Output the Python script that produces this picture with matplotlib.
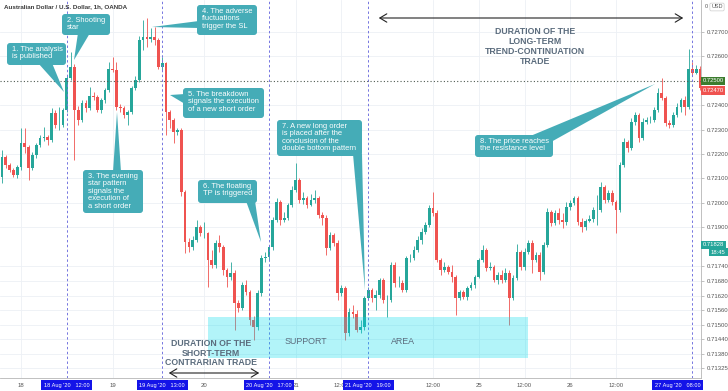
import matplotlib
matplotlib.use("Agg")
import matplotlib.pyplot as plt
from matplotlib.patches import FancyBboxPatch, Polygon, Rectangle
from matplotlib.transforms import Affine2D, blended_transform_factory

plt.rcParams['font.family'] = ['Liberation Sans', 'DejaVu Sans']

# AUD/USD 1h candles (OANDA), 17 Aug 19:00 -> 27 Aug 10:00, weekend hours removed
first_open = 0.72105
closes = [
    0.72187, 0.72154, 0.72134, 0.72113, 0.72146, 0.72245, 0.72228, 0.72142, 0.72195, 0.72236,
    0.72265, 0.72269, 0.72257, 0.72368, 0.72318, 0.72318, 0.72380, 0.72511, 0.72556, 0.72380,
    0.72339, 0.72409, 0.72388, 0.72437, 0.72433, 0.72380, 0.72421, 0.72462, 0.72548, 0.72544,
    0.72392, 0.72388, 0.72359, 0.72372, 0.72470, 0.72503, 0.72667, 0.72679, 0.72671, 0.72679,
    0.72667, 0.72556, 0.72573, 0.72372, 0.72339, 0.72290, 0.72298, 0.72044, 0.71839, 0.71818,
    0.71847, 0.71900, 0.71876, 0.71876, 0.71765, 0.71744, 0.71835, 0.71818, 0.71724, 0.71695,
    0.71712, 0.71589, 0.71568, 0.71662, 0.71634, 0.71519, 0.71490, 0.71630, 0.71773, 0.71777,
    0.71818, 0.71929, 0.72003, 0.71929, 0.71937, 0.71990, 0.72052, 0.72093, 0.72011, 0.72019,
    0.71990, 0.72011, 0.72019, 0.71949, 0.71937, 0.71814, 0.71867, 0.71835, 0.71630, 0.71650,
    0.71466, 0.71552, 0.71544, 0.71478, 0.71490, 0.71609, 0.71642, 0.71609, 0.71621, 0.71683,
    0.71601, 0.71601, 0.71744, 0.71671, 0.71671, 0.71642, 0.71773, 0.71773, 0.71806, 0.71847,
    0.71880, 0.71908, 0.71978, 0.71958, 0.71765, 0.71724, 0.71736, 0.71716, 0.71695, 0.71609,
    0.71634, 0.71613, 0.71650, 0.71662, 0.71695, 0.71765, 0.71806, 0.71732, 0.71736, 0.71683,
    0.71703, 0.71683, 0.71712, 0.71609, 0.71691, 0.71798, 0.71736, 0.71798, 0.71835, 0.71765,
    0.71785, 0.71716, 0.71826, 0.71962, 0.71917, 0.71958, 0.71929, 0.71921, 0.71982, 0.71999,
    0.72019, 0.71921, 0.71900, 0.71925, 0.71933, 0.71970, 0.71970, 0.72064, 0.72011, 0.72040,
    0.72003, 0.71970, 0.72154, 0.72249, 0.72224, 0.72331, 0.72359, 0.72265, 0.72331, 0.72339,
    0.72339, 0.72380, 0.72450, 0.72429, 0.72327, 0.72318, 0.72359, 0.72392, 0.72421, 0.72392,
    0.72548, 0.72531, 0.72548, 0.72470,
]
highs = [
    0.72216, 0.72195, 0.72163, 0.72142, 0.72154, 0.72306, 0.72306, 0.72236, 0.72208, 0.72245,
    0.72277, 0.72310, 0.72277, 0.72388, 0.72380, 0.72392, 0.72388, 0.72519, 0.72618, 0.72569,
    0.72396, 0.72421, 0.72421, 0.72474, 0.72454, 0.72441, 0.72429, 0.72470, 0.72577, 0.72597,
    0.72577, 0.72405, 0.72396, 0.72380, 0.72478, 0.72519, 0.72683, 0.72749, 0.72757, 0.72716,
    0.72720, 0.72675, 0.72597, 0.72577, 0.72380, 0.72347, 0.72306, 0.72306, 0.72052, 0.71855,
    0.71863, 0.71929, 0.71908, 0.71921, 0.71880, 0.71806, 0.71847, 0.71867, 0.71826, 0.71732,
    0.71757, 0.71724, 0.71601, 0.71675, 0.71683, 0.71642, 0.71535, 0.71642, 0.71785, 0.71798,
    0.71826, 0.71941, 0.72019, 0.72011, 0.71962, 0.71999, 0.72068, 0.72163, 0.72101, 0.72044,
    0.72027, 0.72036, 0.72052, 0.72027, 0.71962, 0.71949, 0.71880, 0.71876, 0.71847, 0.71662,
    0.71658, 0.71568, 0.71580, 0.71560, 0.71519, 0.71617, 0.71654, 0.71650, 0.71642, 0.71691,
    0.71691, 0.71621, 0.71757, 0.71757, 0.71699, 0.71683, 0.71781, 0.71790, 0.71822, 0.71863,
    0.71896, 0.71921, 0.71990, 0.72044, 0.71970, 0.71773, 0.71757, 0.71744, 0.71744, 0.71703,
    0.71642, 0.71642, 0.71658, 0.71675, 0.71703, 0.71773, 0.71826, 0.71814, 0.71757, 0.71744,
    0.71716, 0.71724, 0.71732, 0.71724, 0.71703, 0.71831, 0.71806, 0.71814, 0.71847, 0.71847,
    0.71798, 0.71798, 0.71839, 0.71978, 0.71970, 0.71970, 0.71978, 0.71958, 0.72003, 0.72011,
    0.72027, 0.72027, 0.71937, 0.71933, 0.71949, 0.71982, 0.72031, 0.72085, 0.72072, 0.72052,
    0.72052, 0.72011, 0.72167, 0.72265, 0.72257, 0.72347, 0.72372, 0.72368, 0.72347, 0.72351,
    0.72355, 0.72392, 0.72470, 0.72511, 0.72437, 0.72339, 0.72372, 0.72409, 0.72429, 0.72437,
    0.72630, 0.72577, 0.72564, 0.72560,
]
lows = [
    0.72081, 0.72142, 0.72126, 0.72105, 0.72101, 0.72134, 0.72204, 0.72093, 0.72134, 0.72183,
    0.72228, 0.72253, 0.72236, 0.72249, 0.72306, 0.72298, 0.72310, 0.72372, 0.72503, 0.72175,
    0.72318, 0.72331, 0.72372, 0.72380, 0.72421, 0.72372, 0.72368, 0.72409, 0.72454, 0.72536,
    0.72380, 0.72372, 0.72347, 0.72318, 0.72364, 0.72462, 0.72495, 0.72626, 0.72638, 0.72659,
    0.72646, 0.72548, 0.72544, 0.72277, 0.72306, 0.72245, 0.72277, 0.72027, 0.71794, 0.71798,
    0.71806, 0.71839, 0.71863, 0.71855, 0.71654, 0.71732, 0.71732, 0.71798, 0.71703, 0.71654,
    0.71683, 0.71478, 0.71552, 0.71560, 0.71621, 0.71498, 0.71437, 0.71478, 0.71617, 0.71757,
    0.71765, 0.71806, 0.71921, 0.71908, 0.71921, 0.71929, 0.71982, 0.72044, 0.71999, 0.71995,
    0.71978, 0.71986, 0.71999, 0.71937, 0.71908, 0.71785, 0.71806, 0.71822, 0.71601, 0.71617,
    0.71437, 0.71453, 0.71527, 0.71470, 0.71466, 0.71478, 0.71601, 0.71593, 0.71560, 0.71609,
    0.71589, 0.71531, 0.71593, 0.71654, 0.71654, 0.71634, 0.71634, 0.71757, 0.71765, 0.71798,
    0.71831, 0.71872, 0.71900, 0.71945, 0.71757, 0.71703, 0.71716, 0.71708, 0.71675, 0.71539,
    0.71601, 0.71605, 0.71601, 0.71642, 0.71650, 0.71691, 0.71757, 0.71720, 0.71724, 0.71675,
    0.71667, 0.71671, 0.71675, 0.71498, 0.71601, 0.71683, 0.71724, 0.71724, 0.71790, 0.71712,
    0.71757, 0.71683, 0.71708, 0.71818, 0.71904, 0.71908, 0.71913, 0.71896, 0.71908, 0.71970,
    0.71990, 0.71908, 0.71880, 0.71888, 0.71921, 0.71921, 0.71908, 0.71962, 0.71999, 0.72003,
    0.71990, 0.71876, 0.71962, 0.72146, 0.72208, 0.72216, 0.72318, 0.72249, 0.72257, 0.72323,
    0.72327, 0.72331, 0.72372, 0.72421, 0.72314, 0.72306, 0.72310, 0.72351, 0.72372, 0.72359,
    0.72384, 0.72519, 0.72527, 0.72462,
]

# x axis: bar index of each label
tick_bars = [5, 29, 53, 77, 89, 113, 125, 137, 149, 161]
tick_labels = ['18', '19', '20', '21', '12:00', '12:00', '25', '12:00', '26', '12:00']

price_ticks = [0.72700, 0.72600, 0.72400, 0.72300, 0.72200, 0.72100, 0.72000, 0.71900,
               0.71740, 0.71680, 0.71620, 0.71560, 0.71500, 0.71440, 0.71380, 0.71325]

event_bars = [17, 42, 70, 96, 181]
event_labels = ["18 Aug '20   12:00", "19 Aug '20   13:00", "20 Aug '20   17:00",
                "21 Aug '20   19:00", "27 Aug '20   08:00"]

resistance = 0.72500
last_price = 0.72470
other_price = 0.71828
support_low, support_high = 0.71364, 0.71532
support_from, support_to = 54, 138

UP = '#26a69a'
DOWN = '#ef5350'
TEAL = '#45acb7'
SLATE = '#5b6c7d'
AXIS_TXT = '#555555'

W, H = 728, 391
fig = plt.figure(figsize=(W / 100, H / 100), dpi=100)
ax = fig.add_axes([0, 13 / H, 701 / W, 378 / H])
# pixel coordinates, origin top-left, for the drawn annotations
px = Affine2D().scale(1 / W, -1 / H).translate(0, 1) + fig.transFigure
bx = blended_transform_factory(ax.transData, px)
yx = blended_transform_factory(fig.transFigure, ax.transData)

# candles
opens = [first_open] + closes[:-1]
bars = list(range(len(closes)))
cols = [UP if c >= o else DOWN for o, c in zip(opens, closes)]
bottoms = [min(o, c) for o, c in zip(opens, closes)]
heights = [max(abs(c - o), 0.000015) for o, c in zip(opens, closes)]
ax.vlines(bars, lows, highs, colors=cols, lw=0.6, zorder=2)
ax.bar(bars, heights, bottom=bottoms, width=0.72, color=cols, zorder=3)

ax.set_xlim(-0.52, 183.27)
ax.set_ylim(0.71282, 0.72831)

ax.yaxis.tick_right()
ax.set_yticks(price_ticks)
ax.set_yticklabels([f'{p:.5f}' for p in price_ticks])
ax.set_xticks(tick_bars)
ax.set_xticklabels(tick_labels)
ax.tick_params(axis='y', length=2.5, width=0.5, color='#aaaaaa', labelsize=4.3,
               labelcolor=AXIS_TXT, pad=1.5)
ax.tick_params(axis='x', length=0, labelsize=4.3, labelcolor=AXIS_TXT, pad=3.5)
ax.grid(color='#edf0f5', lw=0.6, zorder=0)
for side in ['top', 'left']:
    ax.spines[side].set_visible(False)
for side in ['right', 'bottom']:
    ax.spines[side].set_color('#b5b5b5')
    ax.spines[side].set_linewidth(0.6)

# event lines and resistance level
for b in event_bars:
    ax.axvline(b, color='#7575e0', lw=0.7, dashes=(2.5, 2.5), zorder=4)
ax.axhline(resistance, color='#4f5a52', lw=0.8, ls=(0, (1, 2)), zorder=4)

# support area (drawn over the candles, semi transparent)
ax.add_patch(Rectangle((support_from, support_low), support_to - support_from,
                       support_high - support_low, fc='#00dbee', alpha=0.3, ec='none', zorder=6))
fig.text(306, 341, 'SUPPORT', transform=px, ha='center', va='center', fontsize=6.4,
         color=SLATE)
fig.text(403, 341, 'AREA', transform=px, ha='center', va='center', fontsize=6.4, color=SLATE)

# duration arrows
ax.annotate('', xy=(686, 18), xytext=(376, 18), xycoords=px, textcoords=px,
            arrowprops=dict(arrowstyle='<->,head_length=0.5,head_width=0.3', lw=0.8,
                            color='#222222'))
ax.annotate('', xy=(262, 373), xytext=(166, 373), xycoords=px, textcoords=px,
            arrowprops=dict(arrowstyle='<->,head_length=0.5,head_width=0.3', lw=0.8,
                            color='#222222'))
fig.text(535, 27, 'DURATION OF THE\nLONG-TERM\nTREND-CONTINUATION\nTRADE', transform=px,
         ha='center', va='top', fontsize=6.3, fontweight='bold', color=SLATE,
         linespacing=1.12)
fig.text(211, 339, 'DURATION OF THE\nSHORT-TERM\nCONTRARIAN TRADE', transform=px,
         ha='center', va='top', fontsize=6.3, fontweight='bold', color=SLATE,
         linespacing=1.08)


def callout(x0, y0, w, h, text, wedge):
    fig.add_artist(Polygon(wedge, closed=True, transform=px, fc=TEAL, ec='none'))
    fig.add_artist(FancyBboxPatch((x0, y0), w, h, boxstyle='round,pad=0,rounding_size=3',
                                  transform=px, fc=TEAL, ec='none'))
    fig.text(x0 + 5, y0 + 3, text, transform=px, ha='left', va='top', color='white',
             fontsize=5.4, linespacing=1.08)


callout(7, 43, 59, 22, '1. The analysis\nis published', [(38, 63), (52, 63), (64, 92)])
callout(62, 14, 48, 21, '2. Shooting\nstar', [(78, 33), (90, 33), (74, 60)])
callout(83, 170, 60, 43, '3. The evening\nstar pattern\nsignals the\nexecution of\na short order',
        [(113, 172), (121, 172), (117, 112)])
callout(197, 5, 60, 30, '4. The adverse\nfluctuations\ntrigger the SL',
        [(199, 21), (199, 28), (152, 27)])
callout(183, 88, 81, 30, '5. The breakdown\nsignals the execution\nof a new short order',
        [(185, 94), (185, 104), (170, 95)])
callout(198, 180, 59, 23, '6. The floating\nTP is triggered', [(246, 201), (255, 201), (261, 242)])
callout(277, 120, 85, 36,
        '7. A new long order\nis placed after the\nconclusion of the\ndouble bottom pattern',
        [(353, 154), (362, 154), (365, 290)])
callout(475, 135, 78, 22, '8. The price reaches\nthe resistance level',
        [(528, 137), (551, 142), (655, 84)])

# chart title
fig.text(4, 7, 'Australian Dollar / U.S. Dollar, 1h, OANDA', transform=px, ha='left',
         va='center', fontsize=4.5, fontweight='bold', color='#3a3a3a')

# price scale markers
fig.text(706, 7, '0', transform=px, ha='center', va='center', fontsize=4, color=AXIS_TXT)
fig.text(717, 7, 'USD', transform=px, ha='center', va='center', fontsize=4, color=AXIS_TXT,
         bbox=dict(boxstyle='round,pad=0.25', fc='white', ec='#cccccc', lw=0.5))
for price, fc, dy in [(resistance, '#3b7c2e', 0), (last_price, DOWN, -0.0001),
                      (other_price, UP, 0)]:
    fig.text(702.5 / W, price + dy, f'{price:.5f}', transform=yx, ha='left', va='center',
             fontsize=4.2, color='white',
             bbox=dict(boxstyle='square,pad=0.3', fc=fc, ec='none'))
fig.text(711 / W, other_price - 0.00030, '18:45', transform=yx, ha='left', va='center',
         fontsize=4.2, color='white', bbox=dict(boxstyle='square,pad=0.3', fc=UP, ec='none'))

# highlighted event dates on the time scale
for b, lab in zip(event_bars, event_labels):
    xb = min(b, 177.1)
    ax.text(xb, 385, lab, transform=bx, ha='center', va='center', fontsize=4.1,
            color='white', zorder=10, clip_on=False,
            bbox=dict(boxstyle='square,pad=0.45', fc='#1414e8', ec='none'))

fig.savefig('out.png', dpi=100)
